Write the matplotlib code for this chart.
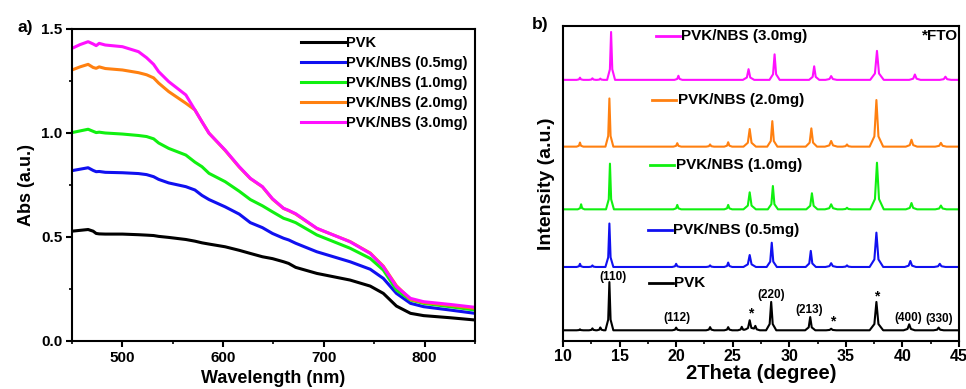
import matplotlib
matplotlib.use("Agg")
import matplotlib.pyplot as plt
import numpy as np
from matplotlib.ticker import MultipleLocator

plt.rcParams['font.family'] = ['Liberation Sans', 'DejaVu Sans']
plt.rcParams['font.weight'] = 'bold'
plt.rcParams['axes.labelweight'] = 'bold'

# ---- panel a: UV-vis absorbance ----
wl = [450, 458, 466, 471, 474, 477, 483, 500, 516, 524, 531, 536, 546, 563, 572, 579, 586,
      602, 616, 627, 639, 649, 660, 665, 672, 693, 726, 746, 759, 772, 786, 799, 825, 850]
abs_30 = [1.407, 1.425, 1.439, 1.428, 1.420, 1.431, 1.423, 1.415, 1.391, 1.362, 1.330, 1.295,
          1.247, 1.183, 1.111, 1.054, 0.999, 0.918, 0.838, 0.782, 0.742, 0.684, 0.638, 0.628,
          0.612, 0.542, 0.477, 0.421, 0.357, 0.261, 0.205, 0.189, 0.176, 0.162]
abs_20 = [1.303, 1.318, 1.330, 1.315, 1.311, 1.318, 1.310, 1.303, 1.290, 1.280, 1.265, 1.240,
          1.199, 1.143, 1.111, 1.054, 0.999, 0.916, 0.836, 0.781, 0.741, 0.682, 0.637, 0.627,
          0.610, 0.541, 0.478, 0.423, 0.360, 0.266, 0.200, 0.185, 0.172, 0.157]
abs_10 = [1.002, 1.010, 1.018, 1.008, 1.002, 1.004, 1.000, 0.995, 0.988, 0.983, 0.972, 0.952,
          0.926, 0.894, 0.860, 0.838, 0.806, 0.766, 0.720, 0.680, 0.650, 0.621, 0.590, 0.582,
          0.569, 0.510, 0.446, 0.397, 0.341, 0.245, 0.197, 0.181, 0.165, 0.149]
abs_05 = [0.819, 0.826, 0.833, 0.820, 0.814, 0.815, 0.811, 0.809, 0.805, 0.800, 0.790, 0.777,
          0.760, 0.742, 0.726, 0.700, 0.680, 0.645, 0.610, 0.569, 0.545, 0.517, 0.494, 0.486,
          0.470, 0.429, 0.381, 0.345, 0.301, 0.229, 0.181, 0.165, 0.149, 0.133]
abs_pvk = [0.528, 0.532, 0.536, 0.528, 0.517, 0.515, 0.514, 0.514, 0.511, 0.509, 0.507, 0.503,
           0.498, 0.488, 0.480, 0.472, 0.466, 0.453, 0.436, 0.421, 0.405, 0.396, 0.381, 0.373,
           0.354, 0.325, 0.293, 0.264, 0.229, 0.168, 0.133, 0.122, 0.112, 0.101]

labels = ['PVK', 'PVK/NBS (0.5mg)', 'PVK/NBS (1.0mg)', 'PVK/NBS (2.0mg)', 'PVK/NBS (3.0mg)']
colors = ['#000000', '#1010f0', '#10f010', '#ff8010', '#ff10ff']

# ---- panel b: XRD, peaks as (2theta, height above baseline, half base width) ----
xrd_base = [3.4, 23.5, 41.8, 61.7, 82.9]
xrd_pvk = [(11.5, 0.3, 0.3), (12.6, 0.6, 0.3), (13.3, 0.9, 0.3), (14.1, 15.3, 0.35),
           (20.0, 0.85, 0.35), (23.0, 1.0, 0.35), (24.6, 1.0, 0.35), (25.8, 1.1, 0.35),
           (26.5, 3.2, 0.5), (27.0, 1.4, 0.4), (28.4, 9.0, 0.45), (31.85, 4.2, 0.45),
           (33.7, 0.5, 0.45), (37.7, 9.0, 0.6), (40.6, 1.9, 0.5), (43.2, 0.85, 0.45)]
xrd_05 = [(11.5, 1.0, 0.3), (12.6, 0.5, 0.3), (14.1, 13.8, 0.35), (20.0, 1.0, 0.35),
          (23.0, 0.5, 0.35), (24.6, 1.4, 0.35), (26.5, 3.8, 0.55), (28.45, 7.7, 0.45),
          (31.9, 5.1, 0.45), (33.7, 1.2, 0.5), (35.1, 0.5, 0.4), (37.7, 10.9, 0.6),
          (40.7, 1.9, 0.5), (43.3, 1.0, 0.5)]
xrd_10 = [(11.6, 1.6, 0.3), (14.15, 14.5, 0.35), (20.1, 1.4, 0.35), (24.6, 1.4, 0.35),
          (26.5, 5.4, 0.55), (28.55, 7.4, 0.45), (32.0, 5.1, 0.5), (33.7, 1.6, 0.55),
          (35.1, 0.5, 0.4), (37.75, 14.8, 0.6), (40.8, 2.0, 0.5), (43.4, 1.2, 0.5)]
xrd_20 = [(11.5, 1.3, 0.3), (14.1, 15.3, 0.35), (20.1, 1.1, 0.35), (23.0, 0.7, 0.35),
          (24.6, 1.4, 0.35), (26.5, 5.6, 0.55), (28.5, 8.1, 0.45), (31.95, 5.8, 0.5),
          (33.7, 1.8, 0.55), (35.1, 0.7, 0.4), (37.7, 14.8, 0.6), (40.8, 2.2, 0.5),
          (43.4, 1.2, 0.5)]
xrd_30 = [(11.5, 0.7, 0.3), (12.6, 0.5, 0.3), (13.3, 0.4, 0.3), (14.25, 15.2, 0.35),
          (20.2, 1.3, 0.35), (26.4, 3.4, 0.5), (28.7, 8.1, 0.45), (32.2, 4.3, 0.45),
          (33.7, 1.2, 0.5), (37.75, 9.2, 0.6), (41.1, 1.7, 0.5), (43.8, 1.0, 0.5)]
xrd_label_y = [18.4, 35.1, 55.8, 76.4, 96.8]
xrd_label_x = [17.6, 17.5, 17.7, 17.9, 18.2]

hkl_text = ['(110)', '(112)', '(220)', '(213)', '(400)', '(330)']
hkl_x = [14.4, 20.07, 28.4, 31.74, 40.5, 43.25]
hkl_y = [20.3, 7.4, 14.7, 9.9, 7.3, 6.9]
star_x = [26.6, 33.8, 37.76]
star_y = [8.8, 6.1, 14.0]


def pattern(peaks, base):
    # sum of peak outlines, evaluated at their own corner points
    xs = [10.0, 45.0]
    for c, h, w in peaks:
        xs += [c - w, c - 0.3 * w, c, c + 0.3 * w, c + w]
    xs = np.unique(xs)
    ys = np.full(len(xs), base)
    for c, h, w in peaks:
        ys += np.interp(xs, [c - w, c - 0.3 * w, c, c + 0.3 * w, c + w],
                        [0, 0.22 * h, h, 0.22 * h, 0], left=0, right=0)
    return xs, ys


fig = plt.figure(figsize=(9.66, 3.89), dpi=100)
ax1 = fig.add_axes([72 / 966, 1 - 341 / 389, 403 / 966, 312 / 389])
ax2 = fig.add_axes([563 / 966, 1 - 341 / 389, 396 / 966, 315 / 389])

for ys, lab, col in zip([abs_pvk, abs_05, abs_10, abs_20, abs_30], labels, colors):
    ax1.plot(wl, ys, color=col, lw=2.2, label=lab, solid_joinstyle='round')
ax1.set_xlim(450, 850)
ax1.set_ylim(0, 1.5)
ax1.xaxis.set_major_locator(MultipleLocator(100))
ax1.xaxis.set_minor_locator(MultipleLocator(50))
ax1.yaxis.set_major_locator(MultipleLocator(0.5))
ax1.yaxis.set_minor_locator(MultipleLocator(0.25))
ax1.set_xlabel('Wavelength (nm)', fontsize=13, labelpad=4)
ax1.set_ylabel('Abs (a.u.)', fontsize=13, labelpad=4)
ax1.legend(loc='upper right', frameon=False, fontsize=10.5, handlelength=3.0,
           handletextpad=0.1, labelspacing=0.4, borderaxespad=0.1)
ax1.text(-0.135, 0.99, 'a)', transform=ax1.transAxes, fontsize=12.5, fontweight='bold')

for peaks, base, col, lab, lx, ly in zip([xrd_pvk, xrd_05, xrd_10, xrd_20, xrd_30], xrd_base,
                                         colors, labels, xrd_label_x, xrd_label_y):
    xs, ys = pattern(peaks, base)
    ax2.plot(xs, ys, color=col, lw=1.5, solid_joinstyle='round')
    ax2.plot([lx, lx + 2.1], [ly, ly], color=col, lw=2)
    ax2.text(lx + 2.25, ly, lab, fontsize=11, fontweight='bold', va='center', ha='left')

for t, x, y in zip(hkl_text, hkl_x, hkl_y):
    ax2.text(x, y, t, fontsize=8.5, fontweight='bold', ha='center', va='center')
for x, y in zip(star_x, star_y):
    ax2.text(x, y, '*', fontsize=10, fontweight='bold', ha='center', va='center')
ax2.text(44.95, 96.8, '*FTO', fontsize=11, fontweight='bold', ha='right', va='center')

ax2.set_xlim(10, 45)
ax2.set_ylim(0, 100)
ax2.xaxis.set_major_locator(MultipleLocator(5))
ax2.xaxis.set_minor_locator(MultipleLocator(2.5))
ax2.set_yticks([])
ax2.set_xlabel('2Theta (degree)', fontsize=14.5, labelpad=0)
ax2.set_ylabel('Intensity (a.u.)', fontsize=14, labelpad=6)
ax2.text(-0.08, 0.99, 'b)', transform=ax2.transAxes, fontsize=12.5, fontweight='bold')

for ax in (ax1, ax2):
    for s in ax.spines.values():
        s.set_linewidth(1.5)
    ax.tick_params(which='major', direction='out', length=4, width=1.5, labelsize=11, pad=3)
    ax.tick_params(which='minor', direction='out', length=2.5, width=1.2)
    for lab in ax.get_xticklabels() + ax.get_yticklabels():
        lab.set_fontweight('bold')
ax2.tick_params(axis='x', which='major', labelsize=11.5, pad=2)

fig.savefig('out.png', dpi=100)
